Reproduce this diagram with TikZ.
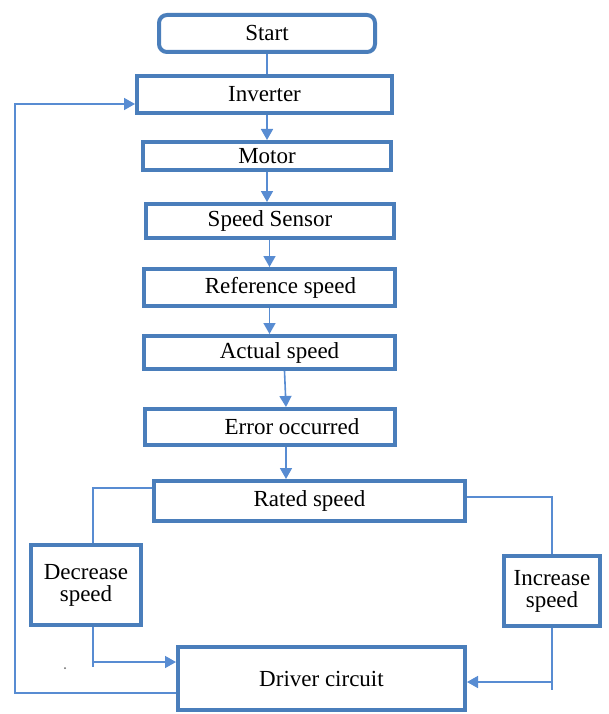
\documentclass[tikz,border=0pt]{standalone}
\usepackage{fontspec}
\setmainfont{Liberation Serif}
\usetikzlibrary{arrows.meta,calc}
\definecolor{boxblue}{RGB}{74,126,187}
\definecolor{lineblue}{RGB}{88,140,210}
\begin{document}
\begin{tikzpicture}[x=1pt,y=-1pt,
  box/.style={draw=boxblue,line width=4pt,fill=white,inner sep=0pt,align=center,
    font=\fontsize{23}{22}\selectfont},
  conn/.style={draw=lineblue,line width=1.6pt},
  arr/.style={conn,-{Triangle[length=11pt,width=12pt]}}]
\useasboundingbox[fill=white] (0,0) rectangle (608,714);

\node[box,rounded corners=8pt,minimum width=216pt,minimum height=37pt] (start) at (267,33.5) {Start};
\node[box,minimum width=255pt,minimum height=37pt] (inv) at (264.5,94.5) {Inverter};
\node[box,minimum width=248pt,minimum height=28pt] (mot) at (267,156) {Motor};
\node[box,minimum width=248pt,minimum height=34pt] (ss) at (270,221) {Speed Sensor};
\node[box,minimum width=251pt,minimum height=37pt] (ref) at (269.5,287.5) {\hspace*{22pt}Reference speed};
\node[box,minimum width=251pt,minimum height=33pt] (act) at (269.5,352.5) {\hspace*{20pt}Actual speed};
\node[box,minimum width=250pt,minimum height=36pt] (err) at (270,427) {\hspace*{44pt}Error occurred};
\node[box,minimum width=311pt,minimum height=40pt] (rat) at (309.5,501) {Rated speed};
\node[box,minimum width=110pt,minimum height=80pt] (dec) at (86,585) {Decrease\\speed};
\node[box,minimum width=96pt,minimum height=70pt] (inc) at (552,591) {Increase\\speed};
\node[box,minimum width=287pt,minimum height=63pt] (drv) at (321.5,678.5) {Driver circuit};

% vertical chain
\draw[conn] (start.south) -- (start.south |- inv.north);
\draw[arr] (mot.north |- inv.south) -- (mot.north);
\draw[arr] (mot.south) -- (mot.south |- ss.north);
\draw[arr] (ref.north |- ss.south) -- (ref.north);
\draw[arr] (act.north |- ref.south) -- (act.north);
\draw[arr] ([xshift=15pt]act.south) -- ([xshift=16pt]err.north);
\coordinate (eb) at ([xshift=16pt]err.south);
\draw[arr] (eb) -- (eb |- rat.north);

% branches
\coordinate (rl) at ([yshift=13pt]rat.west);
\coordinate (dt) at ([xshift=7pt]dec.north);
\draw[conn] (rl) -| (dt);
\coordinate (rr) at ([yshift=4pt]rat.east);
\draw[conn] (rr) -| (inc.north);

% to driver
\coordinate (db) at ([xshift=7pt]dec.south);
\coordinate (dl) at ([yshift=16.5pt]drv.west);
\draw[conn] (db) -- (db |- 0,667);
\draw[arr] (db |- dl) -- (dl);
\coordinate (ir) at ([yshift=-3.5pt]drv.east);
\draw[conn] (inc.south) -- (inc.south |- 0,690);
\draw[arr] (ir -| inc.south) -- (ir);

% feedback
\coordinate (fb) at ([yshift=-14.5pt]drv.west);
\coordinate (ib) at ([yshift=-9.5pt]inv.west);
\coordinate (fl) at (15,400);
\draw[arr] (fb) -- (fb -| fl) -- (fl |- ib) -- (ib);

% stray dot
\fill[black!60] (65,668) circle (1pt);
\end{tikzpicture}
\end{document}
